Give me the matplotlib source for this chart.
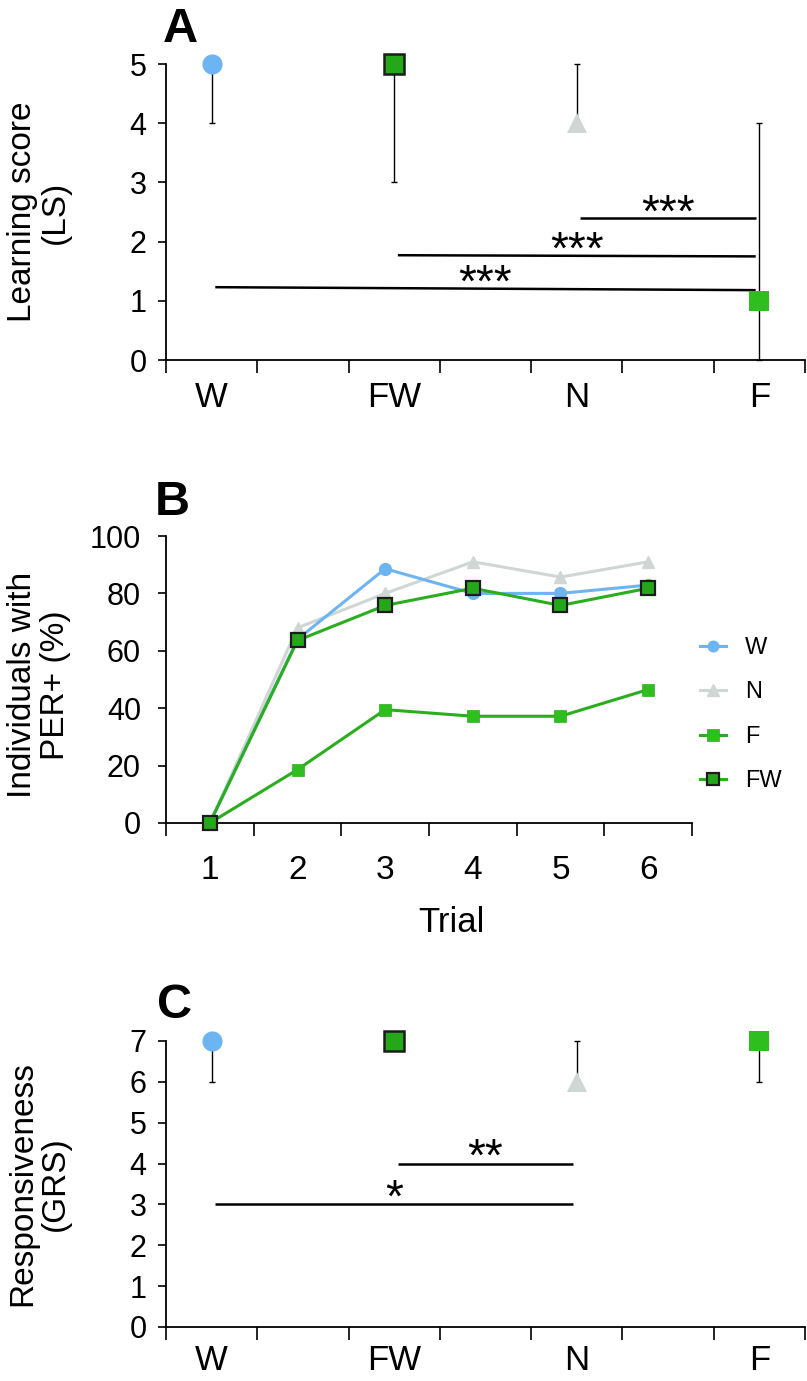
import matplotlib
matplotlib.use('Agg')
import matplotlib.pyplot as plt

# ---------------- data ----------------
categories = ['W', 'FW', 'N', 'F']

# Panel A: learning score (median, lower / upper error)
ls_median = [5, 5, 4, 1]
ls_err_low = [1, 2, 0, 1]
ls_err_high = [0, 0, 1, 3]

# Panel B: % individuals with PER+ per trial
trials = [1, 2, 3, 4, 5, 6]
per_W = [0, 64.0, 88.6, 80.0, 80.0, 82.9]
per_N = [0, 68.0, 80.0, 91.0, 85.7, 91.0]
per_F = [0, 18.6, 39.5, 37.2, 37.2, 46.5]
per_FW = [0, 63.6, 75.8, 81.8, 75.8, 81.8]

# Panel C: gustatory responsiveness score
grs_median = [7, 7, 6, 7]
grs_err_low = [1, 0, 0, 1]
grs_err_high = [0, 0, 1, 0]

# significance comparisons: (group a, group b, y at a, y at b, label)
ls_sig = [('N', 'F', 2.40, 2.40, '***'),
          ('FW', 'F', 1.77, 1.75, '***'),
          ('W', 'F', 1.23, 1.18, '***')]
grs_sig = [('FW', 'N', 4.0, 4.0, '**'),
           ('W', 'N', 3.0, 3.0, '*')]

# ---------------- style ----------------
C_W = '#6DB5F2'
C_N = '#CFD6D4'
C_F = '#2EBE1E'
C_FW = '#24A81A'
C_FW_LINE = '#2AAE1E'
EDGE = '#1C1C1C'

plt.rcParams['font.family'] = ['Liberation Sans', 'DejaVu Sans']

W_PX, H_PX = 807, 1381
fig = plt.figure(figsize=(W_PX / 100, H_PX / 100), dpi=100)


def fbox(left, top, right, bottom):
    return [left / W_PX, 1 - bottom / H_PX, (right - left) / W_PX, (bottom - top) / H_PX]


marker_style = {
    'W': dict(marker='o', ms=14.5, mfc=C_W, mec=C_W, mew=0),
    'FW': dict(marker='s', ms=14.0, mfc=C_FW, mec=EDGE, mew=1.8),
    'N': dict(marker='^', ms=15.0, mfc=C_N, mec=C_N, mew=0),
    'F': dict(marker='s', ms=14.5, mfc=C_F, mec=C_F, mew=0),
}


def category_panel(ax, med, elo, ehi, ymax, sigs, star_offset_pt, ylabel, xpad):
    n = len(categories)
    xs = list(range(n))
    ax.errorbar(xs, med, yerr=[elo, ehi], fmt='none', ecolor='black',
                elinewidth=1.0, capsize=2.5, capthick=1.0, zorder=2, clip_on=False)
    for x, y, c in zip(xs, med, categories):
        ax.plot([x], [y], ls='none', zorder=3, clip_on=False, **marker_style[c])
    for a, b, ya, yb, lab in sigs:
        xa, xb = categories.index(a), categories.index(b)
        ax.plot([xa + 0.02, xb - 0.02], [ya, yb], color='black', lw=1.8,
                solid_capstyle='butt', zorder=1)
        xm = (xa + xb) / 2
        ym = (ya + yb) / 2
        ax.annotate(lab, xy=(xm, ym), xytext=(0, star_offset_pt),
                    textcoords='offset points', ha='center', va='baseline',
                    fontsize=33)
    ax.set_xlim(-0.25, n - 0.75)
    ax.set_ylim(0, ymax)
    ax.set_yticks(range(0, ymax + 1))
    ax.set_xticks(xs)
    ax.set_xticklabels(categories)
    ax.set_xticks([-0.25 + 0.5 * k for k in range(2 * n)], minor=True)
    ax.tick_params(axis='x', which='major', length=0, pad=xpad, labelsize=25)
    ax.tick_params(axis='x', which='minor', length=9, width=1.2, direction='out')
    ax.tick_params(axis='y', length=6, width=1.2, pad=8, labelsize=22)
    for s in ('top', 'right'):
        ax.spines[s].set_visible(False)
    for s in ('left', 'bottom'):
        ax.spines[s].set_linewidth(1.3)
    ax.set_ylabel(ylabel, fontsize=24, va='center', linespacing=1.05)
    ax.yaxis.set_label_coords((39 - 166) / 639, 0.5)


# ---------- Panel A ----------
axA = fig.add_axes(fbox(166, 64, 805, 360))
category_panel(axA, ls_median, ls_err_low, ls_err_high, 5, ls_sig, -6,
               'Learning score\n(LS)', 15)
fig.text(163 / W_PX, 1 - 30 / H_PX, 'A', fontsize=35, fontweight='bold',
         ha='left', va='center')

# ---------- Panel B ----------
axB = fig.add_axes(fbox(166, 536, 692, 823))
axB.plot(trials, per_N, color=C_N, lw=2.2, marker='^', ms=9, mfc=C_N,
         mec=C_N, label='N', zorder=2, clip_on=False)
axB.plot(trials, per_W, color=C_W, lw=2.2, marker='o', ms=8.5, mfc=C_W,
         mec=C_W, label='W', zorder=3, clip_on=False)
axB.plot(trials, per_F, color=C_FW_LINE, lw=2.2, marker='s', ms=9, mfc=C_F,
         mec=C_FW_LINE, mew=0.5, label='F', zorder=4, clip_on=False)
axB.plot(trials, per_FW, color=C_FW_LINE, lw=2.2, marker='s', ms=10, mfc=C_FW,
         mec=EDGE, mew=1.6, label='FW', zorder=5, clip_on=False)
axB.set_xlim(0.5, 6.5)
axB.set_ylim(0, 100)
axB.set_yticks(range(0, 101, 20))
axB.set_xticks(trials)
axB.set_xticks([t - 0.5 for t in trials] + [trials[-1] + 0.5], minor=True)
axB.tick_params(axis='x', which='major', length=0, pad=23, labelsize=24)
axB.tick_params(axis='x', which='minor', length=9, width=1.2, direction='out')
axB.tick_params(axis='y', length=6, width=1.2, pad=12, labelsize=22)
for s in ('top', 'right'):
    axB.spines[s].set_visible(False)
for s in ('left', 'bottom'):
    axB.spines[s].set_linewidth(1.3)
axB.set_ylabel('Individuals with\nPER+ (%)', fontsize=24, va='center',
               linespacing=1.05)
axB.yaxis.set_label_coords((39 - 166) / 526, 0.48)
axB.set_xlabel('Trial', fontsize=25, va='top')
axB.xaxis.set_label_coords((451 - 166) / 526, (823 - 906) / 287)

handles, labels = axB.get_legend_handles_labels()
order = ['W', 'N', 'F', 'FW']
hmap = dict(zip(labels, handles))
fig.legend([hmap[k] for k in order], order, loc='upper left',
           bbox_to_anchor=(700 / W_PX, 1 - 637 / H_PX), frameon=False,
           fontsize=17, handlelength=1.1, handletextpad=0.8,
           labelspacing=0.95, borderpad=0, borderaxespad=0, markerscale=0.9)
fig.text(155 / W_PX, 1 - 503 / H_PX, 'B', fontsize=35, fontweight='bold',
         ha='left', va='center')

# ---------- Panel C ----------
axC = fig.add_axes(fbox(166, 1041, 805, 1327))
category_panel(axC, grs_median, grs_err_low, grs_err_high, 7, grs_sig, -5,
               'Responsiveness\n(GRS)', 12)
fig.text(157 / W_PX, 1 - 1005 / H_PX, 'C', fontsize=35, fontweight='bold',
         ha='left', va='center')

fig.savefig('out.png', dpi=100)
